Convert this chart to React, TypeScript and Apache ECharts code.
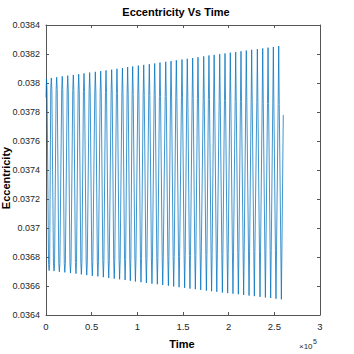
import React, { useEffect, useRef } from "react";
import * as echarts from "echarts";

// Times in units of 1e5 (axis shows ×10^5)
const peakTimes = [0.005, 0.058, 0.117, 0.178, 0.238, 0.299, 0.358, 0.416, 0.478, 0.540, 0.599, 0.657, 0.719, 0.777, 0.837, 0.894, 0.949, 1.011, 1.070, 1.131, 1.190, 1.248, 1.311, 1.369, 1.427, 1.489, 1.547, 1.606, 1.664, 1.727, 1.784, 1.841, 1.902, 1.960, 2.018, 2.077, 2.135, 2.193, 2.252, 2.314, 2.373, 2.431, 2.489, 2.548];
const peakValues = [0.038030, 0.038035, 0.038040, 0.038046, 0.038051, 0.038056, 0.038061, 0.038066, 0.038072, 0.038077, 0.038082, 0.038087, 0.038092, 0.038098, 0.038103, 0.038110, 0.038114, 0.038120, 0.038125, 0.038130, 0.038135, 0.038141, 0.038146, 0.038151, 0.038157, 0.038162, 0.038167, 0.038172, 0.038178, 0.038184, 0.038190, 0.038194, 0.038199, 0.038204, 0.038209, 0.038214, 0.038219, 0.038224, 0.038229, 0.038234, 0.038239, 0.038244, 0.038249, 0.038255];
const troughTimes = [0.034, 0.088, 0.146, 0.206, 0.268, 0.328, 0.387, 0.446, 0.507, 0.568, 0.628, 0.687, 0.747, 0.806, 0.866, 0.923, 0.979, 1.040, 1.099, 1.160, 1.219, 1.278, 1.340, 1.398, 1.457, 1.518, 1.576, 1.635, 1.694, 1.756, 1.813, 1.870, 1.931, 1.989, 2.047, 2.106, 2.164, 2.223, 2.281, 2.343, 2.402, 2.460, 2.518, 2.577];
const troughValues = [0.036706, 0.036703, 0.036698, 0.036694, 0.036689, 0.036685, 0.036680, 0.036675, 0.036670, 0.036666, 0.036661, 0.036656, 0.036651, 0.036646, 0.036641, 0.036636, 0.036631, 0.036626, 0.036621, 0.036616, 0.036612, 0.036607, 0.036602, 0.036597, 0.036592, 0.036587, 0.036582, 0.036578, 0.036573, 0.036568, 0.036564, 0.036560, 0.036555, 0.036551, 0.036547, 0.036543, 0.036538, 0.036534, 0.036530, 0.036525, 0.036521, 0.036517, 0.036512, 0.036508];
const upperShoulder = [0.037960, 0.037958, 0.037956, 0.037953, 0.037951, 0.037948, 0.037946, 0.037943, 0.037941, 0.037938, 0.037936, 0.037933, 0.037931, 0.037928, 0.037926, 0.037923, 0.037921, 0.037918, 0.037916, 0.037913, 0.037911, 0.037908, 0.037906, 0.037903, 0.037901, 0.037898, 0.037896, 0.037893, 0.037891, 0.037888, 0.037886, 0.037883, 0.037881, 0.037878, 0.037876, 0.037873, 0.037871, 0.037868, 0.037866, 0.037863, 0.037861, 0.037858, 0.037856, 0.037853];
const lowerShoulder = [0.036750, 0.036752, 0.036755, 0.036757, 0.036759, 0.036762, 0.036764, 0.036766, 0.036768, 0.036771, 0.036773, 0.036775, 0.036778, 0.036780, 0.036782, 0.036785, 0.036787, 0.036789, 0.036791, 0.036794, 0.036796, 0.036798, 0.036801, 0.036803, 0.036805, 0.036808, 0.036810, 0.036812, 0.036814, 0.036817, 0.036819, 0.036821, 0.036824, 0.036826, 0.036828, 0.036831, 0.036833, 0.036835, 0.036837, 0.036840, 0.036842, 0.036844, 0.036847, 0.036850];
const startPoint = [0, 0.03790];
const endPoint = [2.598, 0.03778];

const xTicks = [0, 0.5, 1, 1.5, 2, 2.5, 3];
const yTicks = [0.0364, 0.0366, 0.0368, 0.037, 0.0372, 0.0374, 0.0376, 0.0378, 0.038, 0.0382, 0.0384];

const SHOULDER_DT = 0.006;
const FONT = "'Liberation Sans Narrow', 'Liberation Sans', Arial, sans-serif";
const AXIS_COLOR = "#555555";
const LABEL_COLOR = "#262626";

function buildLine(): number[][] {
  const pts: number[][] = [startPoint];
  for (let i = 0; i < peakTimes.length; i++) {
    pts.push([peakTimes[i] - SHOULDER_DT, upperShoulder[i]]);
    pts.push([peakTimes[i], peakValues[i]]);
    pts.push([peakTimes[i] + SHOULDER_DT, upperShoulder[i]]);
    pts.push([troughTimes[i] - SHOULDER_DT, lowerShoulder[i]]);
    pts.push([troughTimes[i], troughValues[i]]);
    pts.push([troughTimes[i] + SHOULDER_DT, lowerShoulder[i]]);
  }
  pts.push(endPoint);
  return pts.filter((p) => p[0] >= 0);
}

export default function App() {
  const ref = useRef<HTMLDivElement>(null);
  useEffect(() => {
    if (!ref.current) return;
    const chart = echarts.init(ref.current, undefined, { renderer: "svg" });
    const axisCommon = {
      type: "value" as const,
      axisLine: { show: true, onZero: false, lineStyle: { color: AXIS_COLOR, width: 1 } },
      axisTick: { show: true, inside: true, length: 3, lineStyle: { color: AXIS_COLOR } },
      splitLine: { show: false },
    };
    chart.setOption({
      animation: false,
      backgroundColor: "#ffffff",
      grid: { left: 46, right: 34, top: 25, bottom: 39, containLabel: false },
      xAxis: [
        {
          ...axisCommon,
          position: "bottom",
          min: xTicks[0],
          max: xTicks[xTicks.length - 1],
          interval: 0.5,
          axisLabel: { color: LABEL_COLOR, fontSize: 9.5, fontFamily: FONT, margin: 6 },
        },
        {
          ...axisCommon,
          position: "top",
          min: xTicks[0],
          max: xTicks[xTicks.length - 1],
          interval: 0.5,
          axisLabel: { show: false },
        },
      ],
      yAxis: [
        {
          ...axisCommon,
          position: "left",
          min: yTicks[0],
          max: yTicks[yTicks.length - 1],
          interval: 0.0002,
          axisLabel: {
            color: LABEL_COLOR,
            fontSize: 9,
            fontFamily: FONT,
            margin: 6,
            formatter: (v: number) => String(parseFloat(v.toFixed(4))),
          },
        },
        {
          ...axisCommon,
          position: "right",
          min: yTicks[0],
          max: yTicks[yTicks.length - 1],
          interval: 0.0002,
          axisLabel: { show: false },
        },
      ],
      series: [
        {
          type: "line",
          xAxisIndex: 0,
          yAxisIndex: 0,
          data: buildLine(),
          showSymbol: false,
          symbol: "none",
          lineStyle: { color: "#0072BD", width: 0.75 },
        },
      ],
      graphic: [
        {
          type: "text",
          x: 176,
          y: 12,
          style: {
            text: "Eccentricity Vs Time",
            fontSize: 11,
            fontWeight: "bold",
            fontFamily: FONT,
            fill: "#000000",
            textAlign: "center",
            textVerticalAlign: "middle",
          },
        },
        {
          type: "text",
          x: 6,
          y: 178,
          rotation: Math.PI / 2,
          style: {
            text: "Eccentricity",
            fontSize: 11,
            fontWeight: "bold",
            fontFamily: FONT,
            fill: "#000000",
            textAlign: "center",
            textVerticalAlign: "middle",
          },
        },
        {
          type: "text",
          x: 182,
          y: 344,
          style: {
            text: "Time",
            fontSize: 11,
            fontWeight: "bold",
            fontFamily: FONT,
            fill: "#000000",
            textAlign: "center",
            textVerticalAlign: "middle",
          },
        },
        {
          type: "text",
          x: 299,
          y: 346,
          style: {
            text: "×10",
            fontSize: 8,
            fontFamily: FONT,
            fill: LABEL_COLOR,
            textAlign: "left",
            textVerticalAlign: "middle",
          },
        },
        {
          type: "text",
          x: 313,
          y: 341,
          style: {
            text: "5",
            fontSize: 7,
            fontFamily: FONT,
            fill: LABEL_COLOR,
            textAlign: "left",
            textVerticalAlign: "middle",
          },
        },
      ],
    });
    return () => chart.dispose();
  }, []);
  return <div ref={ref} style={{ position: "fixed", left: 0, top: 0, width: 354, height: 354 }} />;
}
